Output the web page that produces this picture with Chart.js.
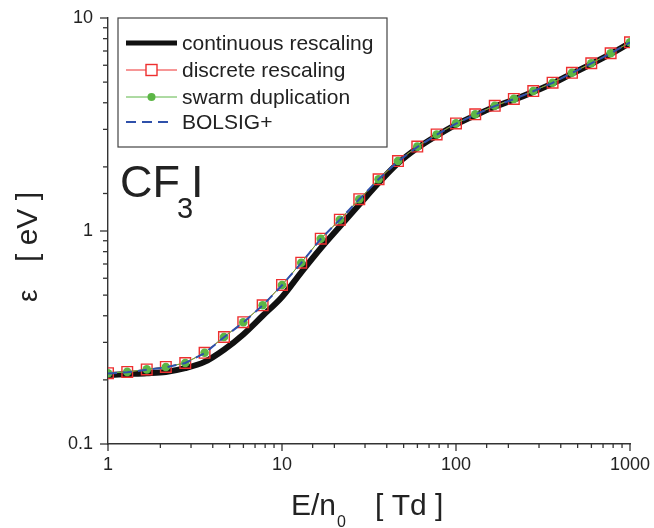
<!DOCTYPE html>
<html><head><meta charset="utf-8">
<script src="https://cdn.jsdelivr.net/npm/chart.js@4.4.1/dist/chart.umd.min.js"></script>
<style>html,body{margin:0;padding:0;background:#fff;}canvas{display:block;}</style>
</head><body>
<canvas id="c" width="654" height="528"></canvas>
<script>
// reduced field E/n0 [Td]
const fieldTd = [1, 1.29, 1.67, 2.15, 2.78, 3.59, 4.64, 5.99, 7.74, 10, 12.9, 16.7, 21.5, 27.8, 35.9, 46.4, 59.9, 77.4, 100, 129, 167, 215, 278, 359, 464, 599, 774, 1000];
// mean energy [eV]
const continuousEV = [0.211, 0.213, 0.215, 0.218, 0.227, 0.243, 0.277, 0.327, 0.400, 0.490, 0.640, 0.830, 1.05, 1.33, 1.68, 2.08, 2.45, 2.80, 3.16, 3.49, 3.83, 4.13, 4.50, 4.93, 5.48, 6.08, 6.78, 7.65];
const discreteEV = [0.215, 0.218, 0.224, 0.230, 0.240, 0.268, 0.318, 0.373, 0.448, 0.558, 0.710, 0.920, 1.13, 1.41, 1.75, 2.13, 2.49, 2.84, 3.20, 3.53, 3.87, 4.17, 4.54, 4.97, 5.53, 6.13, 6.83, 7.69];
const swarmEV = [0.215, 0.218, 0.224, 0.230, 0.240, 0.268, 0.318, 0.373, 0.448, 0.558, 0.710, 0.920, 1.13, 1.41, 1.75, 2.13, 2.49, 2.84, 3.20, 3.53, 3.87, 4.17, 4.54, 4.97, 5.53, 6.13, 6.83, 7.69];
const bolsigEV = [0.214, 0.217, 0.223, 0.229, 0.240, 0.267, 0.317, 0.372, 0.447, 0.556, 0.708, 0.918, 1.13, 1.41, 1.75, 2.12, 2.48, 2.83, 3.19, 3.52, 3.86, 4.16, 4.53, 4.96, 5.52, 6.12, 6.82, 7.68];
const seriesNames = ['continuous rescaling', 'discrete rescaling', 'swarm duplication', 'BOLSIG+'];
const xTickLabels = ['1', '10', '100', '1000'];
const yTickLabels = ['0.1', '1', '10'];

const FONT = "'Liberation Sans', Arial, sans-serif";
const fmt = v => parseFloat(Number(v).toPrecision(6)).toString();
const isMajor = v => Math.abs(Math.log10(v) - Math.round(Math.log10(v))) < 1e-6;
const pts = arr => fieldTd.map((x, i) => ({x: x, y: arr[i]}));

const RED = '#ee2f2f', GREEN = '#5cb646', BLUE = '#2f50aa', BLACK = '#111';

const tickPlugin = {
  id: 'tickMarks',
  afterDraw(chart) {
    const ctx = chart.ctx, xs = chart.scales.x, ys = chart.scales.y, a = chart.chartArea;
    ctx.save();
    ctx.strokeStyle = '#333'; ctx.lineWidth = 1.3;
    xs.ticks.forEach(t => {
      const p = xs.getPixelForValue(t.value);
      ctx.beginPath(); ctx.moveTo(p, a.bottom); ctx.lineTo(p, a.bottom + (isMajor(t.value) ? 7 : 4)); ctx.stroke();
    });
    ys.ticks.forEach(t => {
      const p = ys.getPixelForValue(t.value);
      ctx.beginPath(); ctx.moveTo(a.left, p); ctx.lineTo(a.left - (isMajor(t.value) ? 8 : 5), p); ctx.stroke();
    });
    ctx.restore();
  }
};

const textPlugin = {
  id: 'texts',
  afterDraw(chart) {
    const ctx = chart.ctx;
    ctx.save();
    ctx.fillStyle = '#222';
    ctx.textBaseline = 'alphabetic';
    ctx.textAlign = 'left';
    // species label
    ctx.font = '45px ' + FONT;
    ctx.fillText('CF', 120, 197);
    ctx.font = '29px ' + FONT;
    ctx.fillText('3', 177, 218);
    ctx.font = '45px ' + FONT;
    ctx.fillText('I', 191, 197);
    // x title
    ctx.font = '30px ' + FONT;
    ctx.fillText('E/n', 291, 515);
    ctx.font = '16px ' + FONT;
    ctx.fillText('0', 337, 527);
    ctx.font = '30px ' + FONT;
    ctx.fillText('[ Td ]', 375, 515);
    // y title
    ctx.save();
    ctx.translate(37, 302);
    ctx.rotate(-Math.PI / 2);
    ctx.font = '28px ' + FONT;
    ctx.fillText('\u03b5', 0, 0);
    ctx.restore();
    ctx.save();
    ctx.translate(37, 192);
    ctx.rotate(-Math.PI / 2);
    ctx.textAlign = 'right';
    ctx.font = '30px ' + FONT;
    ctx.fillText('[ eV ]', 0, 0);
    ctx.restore();
    // legend
    ctx.fillStyle = '#fff';
    ctx.fillRect(118, 18, 269, 129);
    ctx.strokeStyle = '#444'; ctx.lineWidth = 1.2;
    ctx.strokeRect(118, 18, 269, 129);
    const rows = [43, 70, 97, 122];
    const x0 = 126, x1 = 177, xm = 151.5;
    ctx.lineCap = 'butt';
    // continuous
    ctx.strokeStyle = BLACK; ctx.lineWidth = 5;
    ctx.beginPath(); ctx.moveTo(x0, rows[0]); ctx.lineTo(x1, rows[0]); ctx.stroke();
    // discrete
    ctx.strokeStyle = RED; ctx.lineWidth = 1;
    ctx.beginPath(); ctx.moveTo(x0, rows[1]); ctx.lineTo(xm - 5.5, rows[1]); ctx.moveTo(xm + 5.5, rows[1]); ctx.lineTo(x1, rows[1]); ctx.stroke();
    ctx.lineWidth = 1.4;
    ctx.strokeRect(xm - 5.5, rows[1] - 5.5, 11, 11);
    // swarm
    ctx.strokeStyle = GREEN; ctx.lineWidth = 1;
    ctx.beginPath(); ctx.moveTo(x0, rows[2]); ctx.lineTo(x1, rows[2]); ctx.stroke();
    ctx.fillStyle = GREEN;
    ctx.beginPath(); ctx.arc(xm, rows[2], 4, 0, Math.PI * 2); ctx.fill();
    // bolsig
    ctx.strokeStyle = BLUE; ctx.lineWidth = 2; ctx.setLineDash([10, 6]);
    ctx.beginPath(); ctx.moveTo(x0, rows[3]); ctx.lineTo(x1 - 4, rows[3]); ctx.stroke();
    ctx.setLineDash([]);
    ctx.fillStyle = '#222';
    ctx.font = '21px ' + FONT;
    ctx.textBaseline = 'middle';
    seriesNames.forEach((n, i) => ctx.fillText(n, 182, rows[i] + 1));
    ctx.restore();
  }
};

const zeroPad = s => { s.paddingTop = 0; s.paddingBottom = 0; s.paddingLeft = 0; s.paddingRight = 0; };

new Chart(document.getElementById('c'), {
  type: 'line',
  data: {
    datasets: [
      {label: seriesNames[0], data: pts(continuousEV), borderColor: BLACK, borderWidth: 6, pointRadius: 0, cubicInterpolationMode: 'monotone', order: 4},
      {label: seriesNames[1], data: pts(discreteEV), borderColor: RED, borderWidth: 1, pointStyle: 'rect', pointRadius: 7.5, pointBorderWidth: 1.4, pointBorderColor: RED, pointBackgroundColor: 'rgba(255,255,255,0)', tension: 0, order: 3},
      {label: seriesNames[2], data: pts(swarmEV), borderColor: GREEN, borderWidth: 1, pointStyle: 'circle', pointRadius: 4.3, pointBorderWidth: 0, pointBackgroundColor: GREEN, tension: 0, order: 2},
      {label: seriesNames[3], data: pts(bolsigEV), borderColor: BLUE, borderWidth: 2, borderDash: [9, 6], pointRadius: 0, tension: 0, order: 1}
    ]
  },
  options: {
    responsive: false,
    devicePixelRatio: 1,
    animation: false,
    events: [],
    layout: {padding: {top: 18, right: 24, left: 0, bottom: 0}},
    plugins: {legend: {display: false}, tooltip: {enabled: false}, title: {display: false}},
    scales: {
      x: {
        type: 'logarithmic', position: 'bottom', min: 1, max: 1000,
        afterFit: s => { s.height = 84; zeroPad(s); },
        grid: {display: true, drawOnChartArea: false, drawTicks: false},
        border: {display: true, color: '#333', width: 1.4},
        ticks: {
          autoSkip: false, maxRotation: 0, padding: 10, color: '#222',
          font: {family: FONT, size: 18},
          callback: v => xTickLabels.includes(fmt(v)) ? fmt(v) : ''
        }
      },
      y: {
        type: 'logarithmic', position: 'left', min: 0.1, max: 10,
        afterFit: s => { s.width = 108; zeroPad(s); },
        grid: {display: true, drawOnChartArea: false, drawTicks: false},
        border: {display: true, color: '#333', width: 1.4},
        ticks: {
          autoSkip: false, padding: 15, color: '#222',
          font: {family: FONT, size: 18},
          callback: v => yTickLabels.includes(fmt(v)) ? fmt(v) : ''
        }
      }
    }
  },
  plugins: [tickPlugin, textPlugin]
});
</script>
</body></html>
